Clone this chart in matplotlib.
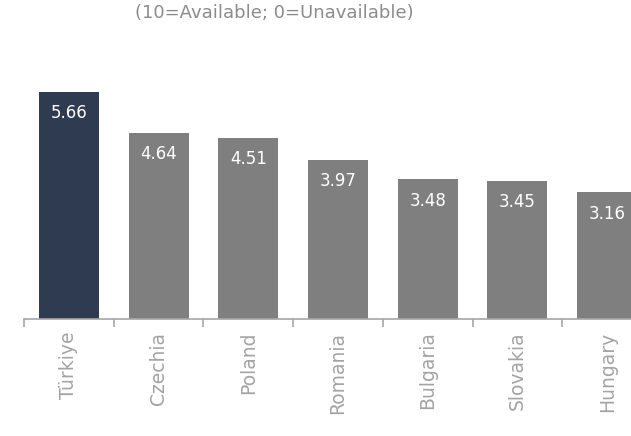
import matplotlib
matplotlib.use("Agg")
import matplotlib.pyplot as plt
import numpy as np

countries = ["Türkiye", "Czechia", "Poland", "Romania", "Bulgaria", "Slovakia", "Hungary"]
scores = [5.66, 4.64, 4.51, 3.97, 3.48, 3.45, 3.16]
highlight = "Türkiye"

plt.rcParams['font.family'] = ['DejaVu Sans']

fig = plt.figure(figsize=(6.31, 4.36), dpi=100)
ax = fig.add_axes([24/631, 117/436, 628/631, 281/436])

x = np.arange(len(countries))
colors = ["#2E3B50" if c == highlight else "#7F7F7F" for c in countries]
bars = ax.bar(x, scores, width=0.67, color=colors)

for xi, v in zip(x, scores):
    ax.annotate(f"{v:.2f}", (xi, v), xytext=(0, -9), textcoords="offset points",
                ha="center", va="top", color="white", fontsize=12)

ax.set_xlim(-0.5, len(countries) - 0.5)
ax.set_ylim(0, 7)
ax.set_xticks(x)
ax.set_xticklabels(countries, rotation=90, fontsize=13.5, color="#A3A3A3")
ax.tick_params(axis="x", which="major", length=0, pad=9)
ax.set_xticks(np.arange(len(countries) + 1) - 0.5, minor=True)
ax.tick_params(axis="x", which="minor", length=6, color="#A6A6A6", width=1.2)
ax.set_yticks([])
for s in ["top", "right", "left"]:
    ax.spines[s].set_visible(False)
ax.spines["bottom"].set_color("#A6A6A6")
ax.spines["bottom"].set_linewidth(1.2)

fig.text(274/631, 1 - 13/436, "(10=Available; 0=Unavailable)", ha="center", va="center",
         fontsize=13, color="#8C8C8C")

fig.savefig("out.png", dpi=100)
